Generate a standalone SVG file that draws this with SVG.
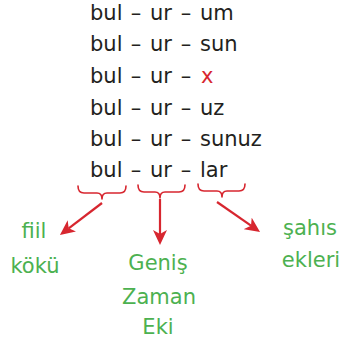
<svg xmlns="http://www.w3.org/2000/svg" width="345" height="344" viewBox="0 0 345 344">
<defs>
<style>
.t{font-family:"DejaVu Sans","Open Sans",sans-serif;font-size:21px;fill:#231f20}
.d{font-family:"DejaVu Sans","Open Sans",sans-serif;font-size:21px;fill:#231f20;text-anchor:middle}
.x{fill:#d7262f}
.g{font-family:"DejaVu Sans","Open Sans",sans-serif;font-size:21px;fill:#4cb150;text-anchor:middle}
.br{fill:none;stroke:#d7262f;stroke-width:1.6;stroke-linecap:round;stroke-linejoin:round}
.ar{fill:none;stroke:#d7262f;stroke-width:2.2}
</style>
<marker id="ah" markerWidth="16" markerHeight="14" refX="4" refY="7" orient="auto" markerUnits="userSpaceOnUse">
<path d="M0,0 L15,7 L0,14 L4,7 z" fill="#d7262f"/>
</marker>
</defs>
<rect width="345" height="344" fill="#fff"/>
<g id="line1"><text class="t" x="90" y="20">bul</text><text class="d" x="136" y="20">–</text><text class="t" x="150" y="20">ur</text><text class="d" x="186" y="20">–</text><text class="t" x="200" y="20">um</text></g>
<g id="line2"><text class="t" x="90" y="51">bul</text><text class="d" x="136" y="51">–</text><text class="t" x="150" y="51">ur</text><text class="d" x="186" y="51">–</text><text class="t" x="200" y="51">sun</text></g>
<g id="line3"><text class="t" x="90" y="83">bul</text><text class="d" x="136" y="83">–</text><text class="t" x="150" y="83">ur</text><text class="d" x="186" y="83">–</text><text class="t x" x="201" y="83">x</text></g>
<g id="line4"><text class="t" x="90" y="115">bul</text><text class="d" x="136" y="115">–</text><text class="t" x="150" y="115">ur</text><text class="d" x="186" y="115">–</text><text class="t" x="200" y="115">uz</text></g>
<g id="line5"><text class="t" x="90" y="146">bul</text><text class="d" x="136" y="146">–</text><text class="t" x="150" y="146">ur</text><text class="d" x="186" y="146">–</text><text class="t" x="200" y="146">sunuz</text></g>
<g id="line6"><text class="t" x="90" y="177">bul</text><text class="d" x="136" y="177">–</text><text class="t" x="150" y="177">ur</text><text class="d" x="186" y="177">–</text><text class="t" x="200" y="177">lar</text></g>
<g id="braces">
<path class="br" d="M78,186 Q78,193 84,193 L97,193 Q102,193 102,199 Q102,193 107,193 L120,193 Q126,193 126,186"/>
<path class="br" d="M138,185 Q138,192 144,192 L155,192 Q160,192 160,198 Q160,192 165,192 L179,192 Q185,192 185,185"/>
<path class="br" d="M198,184 Q198,191 204,191 L217,191 Q222,191 222,197 Q222,191 227,191 L239,191 Q245,191 245,184"/>
</g>
<g id="connectors">
<line class="ar" x1="102" y1="203" x2="68.7" y2="228.3" marker-end="url(#ah)"/>
<line class="ar" x1="160" y1="199" x2="160" y2="234" marker-end="url(#ah)"/>
<line class="ar" x1="217" y1="202" x2="251" y2="225.7" marker-end="url(#ah)"/>
</g>
<g id="fiil-koku"><text class="g" x="34" y="238">fiil</text><text class="g" x="35" y="273">kökü</text></g>
<g id="genis-zaman-eki"><text class="g" x="158" y="270">Geniş</text><text class="g" x="159" y="304">Zaman</text><text class="g" x="158" y="334">Eki</text></g>
<g id="sahis-ekleri"><text class="g" x="310" y="235">şahıs</text><text class="g" x="311" y="267">ekleri</text></g>
</svg>
